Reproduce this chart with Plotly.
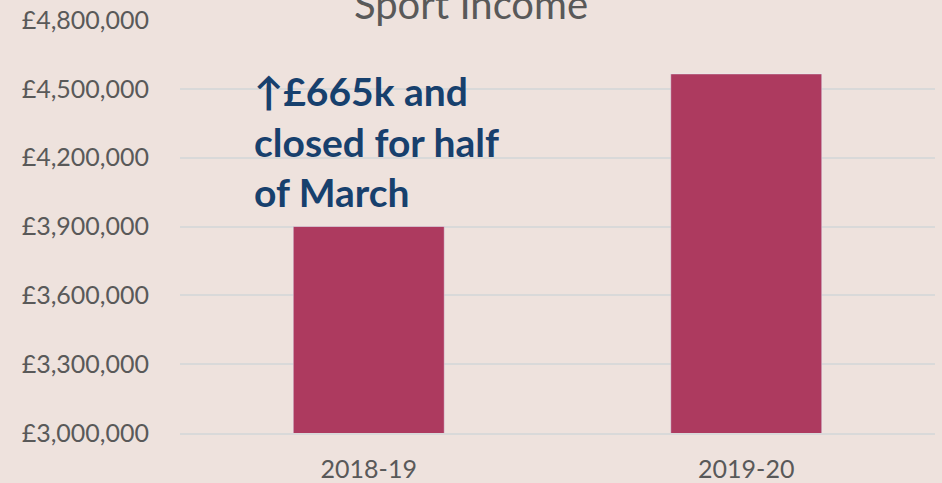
import plotly.graph_objects as go

categories = ["2018-19", "2019-20"]
income = [3900000, 4565000]
y_ticks = [3000000, 3300000, 3600000, 3900000, 4200000, 4500000, 4800000]
y_tick_labels = ["£3,000,000", "£3,300,000", "£3,600,000", "£3,900,000",
                 "£4,200,000", "£4,500,000", "£4,800,000"]
title_text = "Sport Income"
note_text = "↑£665k and<br>closed for half<br>of March"

BG = "#EEE2DD"
BAR = "#AD3A5F"
GRID = "#D9D9D9"
TXT = "#595959"
NAVY = "#17406D"
FONT = "Lato, 'Open Sans', sans-serif"

fig = go.Figure(go.Bar(
    x=categories, y=income, marker_color=BAR, width=0.4,
    hoverinfo="x+y",
))

fig.update_layout(
    width=942, height=483,
    margin=dict(l=180, r=7, t=20, b=50, autoexpand=False),
    paper_bgcolor=BG, plot_bgcolor=BG,
    showlegend=False,
    font=dict(family=FONT, color=TXT, size=25),
    title=dict(text=title_text, x=0.5, xanchor="center", xref="container",
               y=1 - 19 / 483, yanchor="bottom", yref="container",
               automargin=False,
               font=dict(family=FONT, size=40, color=TXT)),
)
fig.update_yaxes(
    range=[3000000, 4800000], tickvals=y_ticks, ticktext=y_tick_labels,
    showgrid=True, gridcolor=GRID, gridwidth=1.5, zeroline=False,
    showline=False, ticks="", ticklabelstandoff=30, automargin=False,
    tickfont=dict(family=FONT, size=25, color=TXT),
)
fig.update_xaxes(
    range=[-0.5, 1.5], showgrid=False, showline=True, linecolor=GRID,
    linewidth=1.5, ticks="", ticklabelstandoff=13, automargin=False,
    tickfont=dict(family=FONT, size=25, color=TXT),
)
fig.add_annotation(
    text=note_text, xref="paper", yref="paper",
    x=(252 - 180) / 755, y=1 - (66 - 20) / 413,
    xanchor="left", yanchor="top", align="left", showarrow=False,
    font=dict(family=FONT, size=39, color=NAVY, weight="bold"),
)

fig.write_html(
    "out.html",
    config={"displayModeBar": False},
    post_script="document.body.style.margin='0';document.body.style.overflow='hidden';",
)
